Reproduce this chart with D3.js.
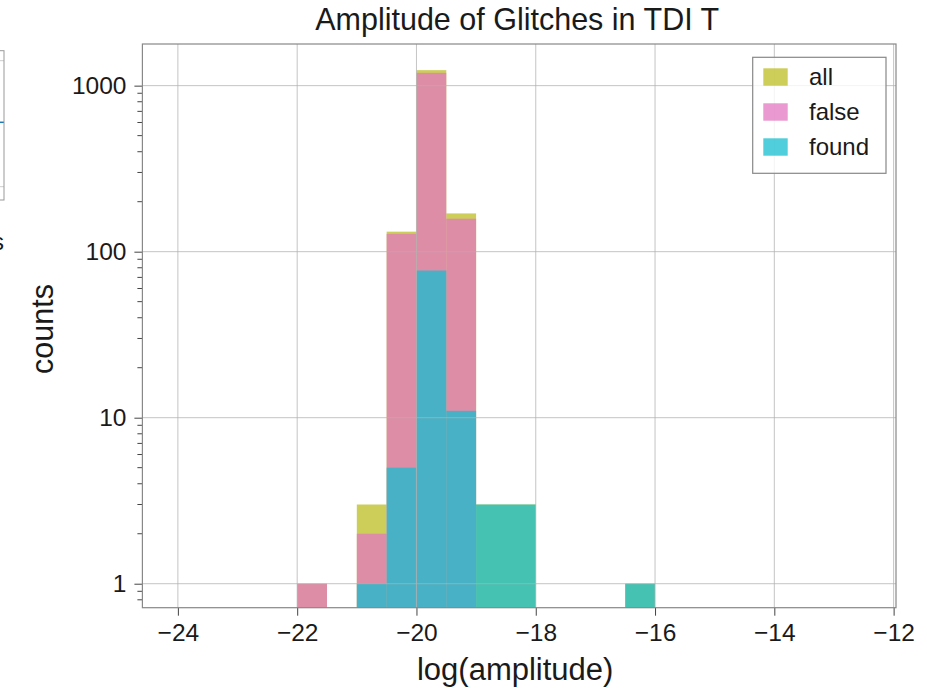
<!DOCTYPE html>
<html>
<head>
<meta charset="utf-8">
<script src="https://cdn.jsdelivr.net/npm/d3@7"></script>
<style>
  body { margin: 0; background: #fff; }
  text { font-family: "Liberation Sans", Arial, Helvetica, sans-serif; fill: #1a1a1a; }
</style>
</head>
<body>
<svg id="chart" width="927" height="688"></svg>
<script>
// histogram bins (left edge, width 0.5) and counts per series
const binStart = [-22, -21, -20.5, -20, -19.5, -19, -18.5, -16.5];
const binWidth = 0.5;
const allCounts   = [1, 3, 132, 1240, 170, 3, 3, 1];
const falseCounts = [1, 2, 128, 1195, 158, 0, 0, 0];
const foundCounts = [0, 1, 5, 77, 11, 3, 3, 1];

const seriesNames = ["all", "false", "found"];
const seriesColors = ["#bcbd22", "#e377c2", "#17becf"];

const xTicks = [-24, -22, -20, -18, -16, -14, -12];
const yTicks = [1, 10, 100, 1000];

const svg = d3.select("#chart");
const margin = {left: 142.4, right: 927 - 896, top: 44, bottom: 688 - 607.7};
const width = 927 - margin.left - margin.right;
const height = 688 - margin.top - margin.bottom;

// cut-off neighbour panel on the left edge
let side = svg.append("g");
side.append("line").attr("x1", 0).attr("x2", 4).attr("y1", 60.7).attr("y2", 60.7).attr("stroke", "#ccc");
side.append("line").attr("x1", 0).attr("x2", 4).attr("y1", 186.7).attr("y2", 186.7).attr("stroke", "#ccc");
side.append("line").attr("x1", 0).attr("x2", 4).attr("y1", 122.3).attr("y2", 122.3).attr("stroke", "#1f77b4").attr("stroke-width", 1.5);
side.append("rect").attr("x", -20).attr("y", 50.7).attr("width", 24).attr("height", 149.3)
    .attr("fill", "none").attr("stroke", "#999");
side.append("text").attr("x", 4).attr("y", 250).attr("text-anchor", "end").style("font-size", "24px").text("s");

const g = svg.append("g").attr("transform", `translate(${margin.left},${margin.top})`);

let x = d3.scaleLinear().domain([-24.595, -11.96]).range([0, width]);
let y = d3.scaleLog().domain([0.717, 1782]).range([height, 0]);

// bars, drawn in order all -> false -> found
const series = [allCounts, falseCounts, foundCounts];
series.forEach((counts, i) => {
    const data = binStart.map((b, j) => ({x0: b, x1: b + binWidth, c: counts[j]})).filter(d => d.c > 0);
    g.append("g").selectAll("rect")
        .data(data)
        .enter().append("rect")
        .attr("x", d => x(d.x0))
        .attr("y", d => y(d.c))
        .attr("width", d => x(d.x1) - x(d.x0))
        .attr("height", d => height - y(d.c))
        .attr("fill", seriesColors[i])
        .attr("fill-opacity", 0.75);
});

// grid on top of bars
let grid = g.append("g").attr("stroke", "#b0b0b0").attr("stroke-opacity", 0.75).attr("stroke-width", 1);
xTicks.forEach(t => {
    grid.append("line").attr("x1", x(t)).attr("x2", x(t)).attr("y1", 0).attr("y2", height);
});
yTicks.forEach(t => {
    grid.append("line").attr("x1", 0).attr("x2", width).attr("y1", y(t)).attr("y2", y(t));
});

// axes
const fmtX = d => (d < 0 ? "\u2212" : "") + Math.abs(d);
let xAxis = g.append("g").attr("transform", `translate(0,${height})`)
    .call(d3.axisBottom(x).tickValues(xTicks).tickFormat(fmtX).tickSize(8).tickPadding(8));
let yAxis = g.append("g")
    .call(d3.axisLeft(y).tickValues(yTicks).tickFormat(d3.format("d")).tickSize(8).tickPadding(8));

// minor log ticks
let minor = [];
for (let dec = 0.1; dec <= 1000; dec *= 10) {
    for (let k = 2; k <= 9; k++) {
        const v = Math.round(dec * k * 1000) / 1000;
        if (v > y.domain()[0] && v < y.domain()[1]) minor.push(v);
    }
}
g.append("g").selectAll("line").data(minor).enter().append("line")
    .attr("x1", -5).attr("x2", 0)
    .attr("y1", d => y(d)).attr("y2", d => y(d))
    .attr("stroke", "#444").attr("stroke-width", 1);

[xAxis, yAxis].forEach(a => {
    a.select(".domain").remove();
    a.selectAll(".tick line").attr("stroke", "#444");
    a.selectAll(".tick text").style("font-size", "24.5px").attr("fill", "#1a1a1a");
});

// frame
g.append("rect").attr("width", width).attr("height", height)
    .attr("fill", "none").attr("stroke", "#888").attr("stroke-width", 1.2);

// labels
svg.append("text")
    .attr("x", margin.left + width / 2 - 2).attr("y", 30)
    .attr("text-anchor", "middle").style("font-size", "30.5px")
    .text("Amplitude of Glitches in TDI T");

svg.append("text")
    .attr("x", margin.left + width / 2 - 4).attr("y", 680)
    .attr("text-anchor", "middle").style("font-size", "31px")
    .text("log(amplitude)");

svg.append("text")
    .attr("transform", `translate(53, 329) rotate(-90)`)
    .attr("text-anchor", "middle").style("font-size", "30.5px")
    .text("counts");

// legend
let legend = svg.append("g").attr("transform", "translate(752.7, 57.3)");
legend.append("rect").attr("width", 133.3).attr("height", 116)
    .attr("fill", "#fff").attr("fill-opacity", 0.8).attr("stroke", "#888").attr("stroke-width", 1.2);
seriesNames.forEach((name, i) => {
    legend.append("rect")
        .attr("x", 10.6).attr("y", 11 + i * 35)
        .attr("width", 24.4).attr("height", 17.4)
        .attr("fill", seriesColors[i]).attr("fill-opacity", 0.75);
    legend.append("text")
        .attr("x", 56.3).attr("y", 28 + i * 35)
        .style("font-size", "24px")
        .text(name);
});
</script>
</body>
</html>
